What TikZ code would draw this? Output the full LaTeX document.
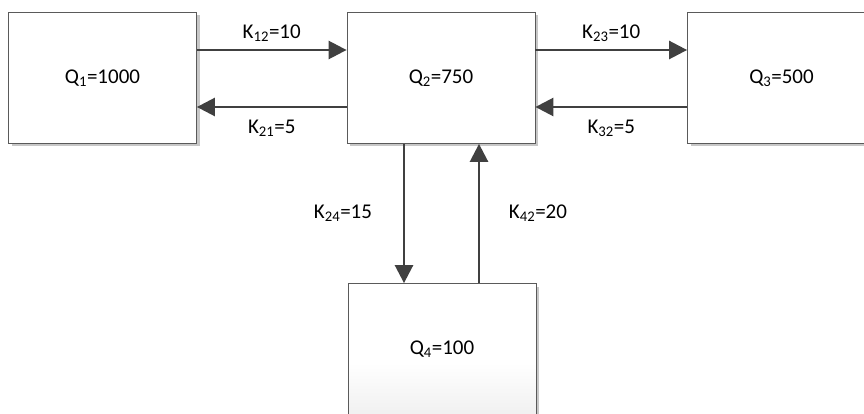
\documentclass[tikz,border=0pt]{standalone}
\usepackage{fontspec}
\setmainfont{Carlito}
\usetikzlibrary{arrows.meta,shadows}
\definecolor{linegray}{HTML}{404040}
\definecolor{boxgray}{HTML}{5A5A5A}
\tikzset{
  pool/.style={draw=boxgray, line width=0.8pt, minimum width=188pt, minimum height=131pt,
    fill=white, font=\fontsize{21}{25}\selectfont,
    drop shadow={shadow xshift=3pt, shadow yshift=-3pt, fill=black!22, opacity=1}},
  flow/.style={draw=linegray, line width=2.6pt, -{Triangle[length=18pt,width=18pt]}},
  rate/.style={font=\fontsize{21}{25}\selectfont, inner sep=0pt}
}
\begin{document}
\begin{tikzpicture}[x=1pt, y=-1pt]
    \clip (0, 0) rectangle (864, 414);
    \fill[white] (0, 0) rectangle (864, 414);
    % compartments
    \node[pool] (q1) at (102.5, 78) {Q\textsubscript{1}=1000};
    \node[pool] (q2) at (441, 78) {Q\textsubscript{2}=750};
    \node[pool] (q3) at (781.5, 78) {Q\textsubscript{3}=500};
    \node[pool, minimum height=159pt, top color=white, bottom color=black!9, middle color=white] (q4) at (442, 363) {};
    \node[rate] (q4text) at (442, 349) {Q\textsubscript{4}=100};
    % exchange rates
    \draw[flow] ([yshift=28pt]q1.east) -- ([yshift=28pt]q2.west) node[rate, midway, yshift=17pt] (k12) {K\textsubscript{12}=10};
    \draw[flow] ([yshift=-29pt]q2.west) -- ([yshift=-29pt]q1.east) node[rate, midway, yshift=-21pt] (k21) {K\textsubscript{21}=5};
    \draw[flow] ([yshift=28pt]q2.east) -- ([yshift=28pt]q3.west) node[rate, midway, yshift=17pt] (k23) {K\textsubscript{23}=10};
    \draw[flow] ([yshift=-29pt]q3.west) -- ([yshift=-29pt]q2.east) node[rate, midway, yshift=-21pt] (k32) {K\textsubscript{32}=5};
    \draw[flow] ([xshift=-37pt]q2.south) -- ([xshift=-38pt]q4.north) node[rate, midway, xshift=-61pt] (k24) {K\textsubscript{24}=15};
    \draw[flow] ([xshift=37pt]q4.north) -- ([xshift=38pt]q2.south) node[rate, midway, xshift=59pt] (k42) {K\textsubscript{42}=20};
\end{tikzpicture}
\end{document}
